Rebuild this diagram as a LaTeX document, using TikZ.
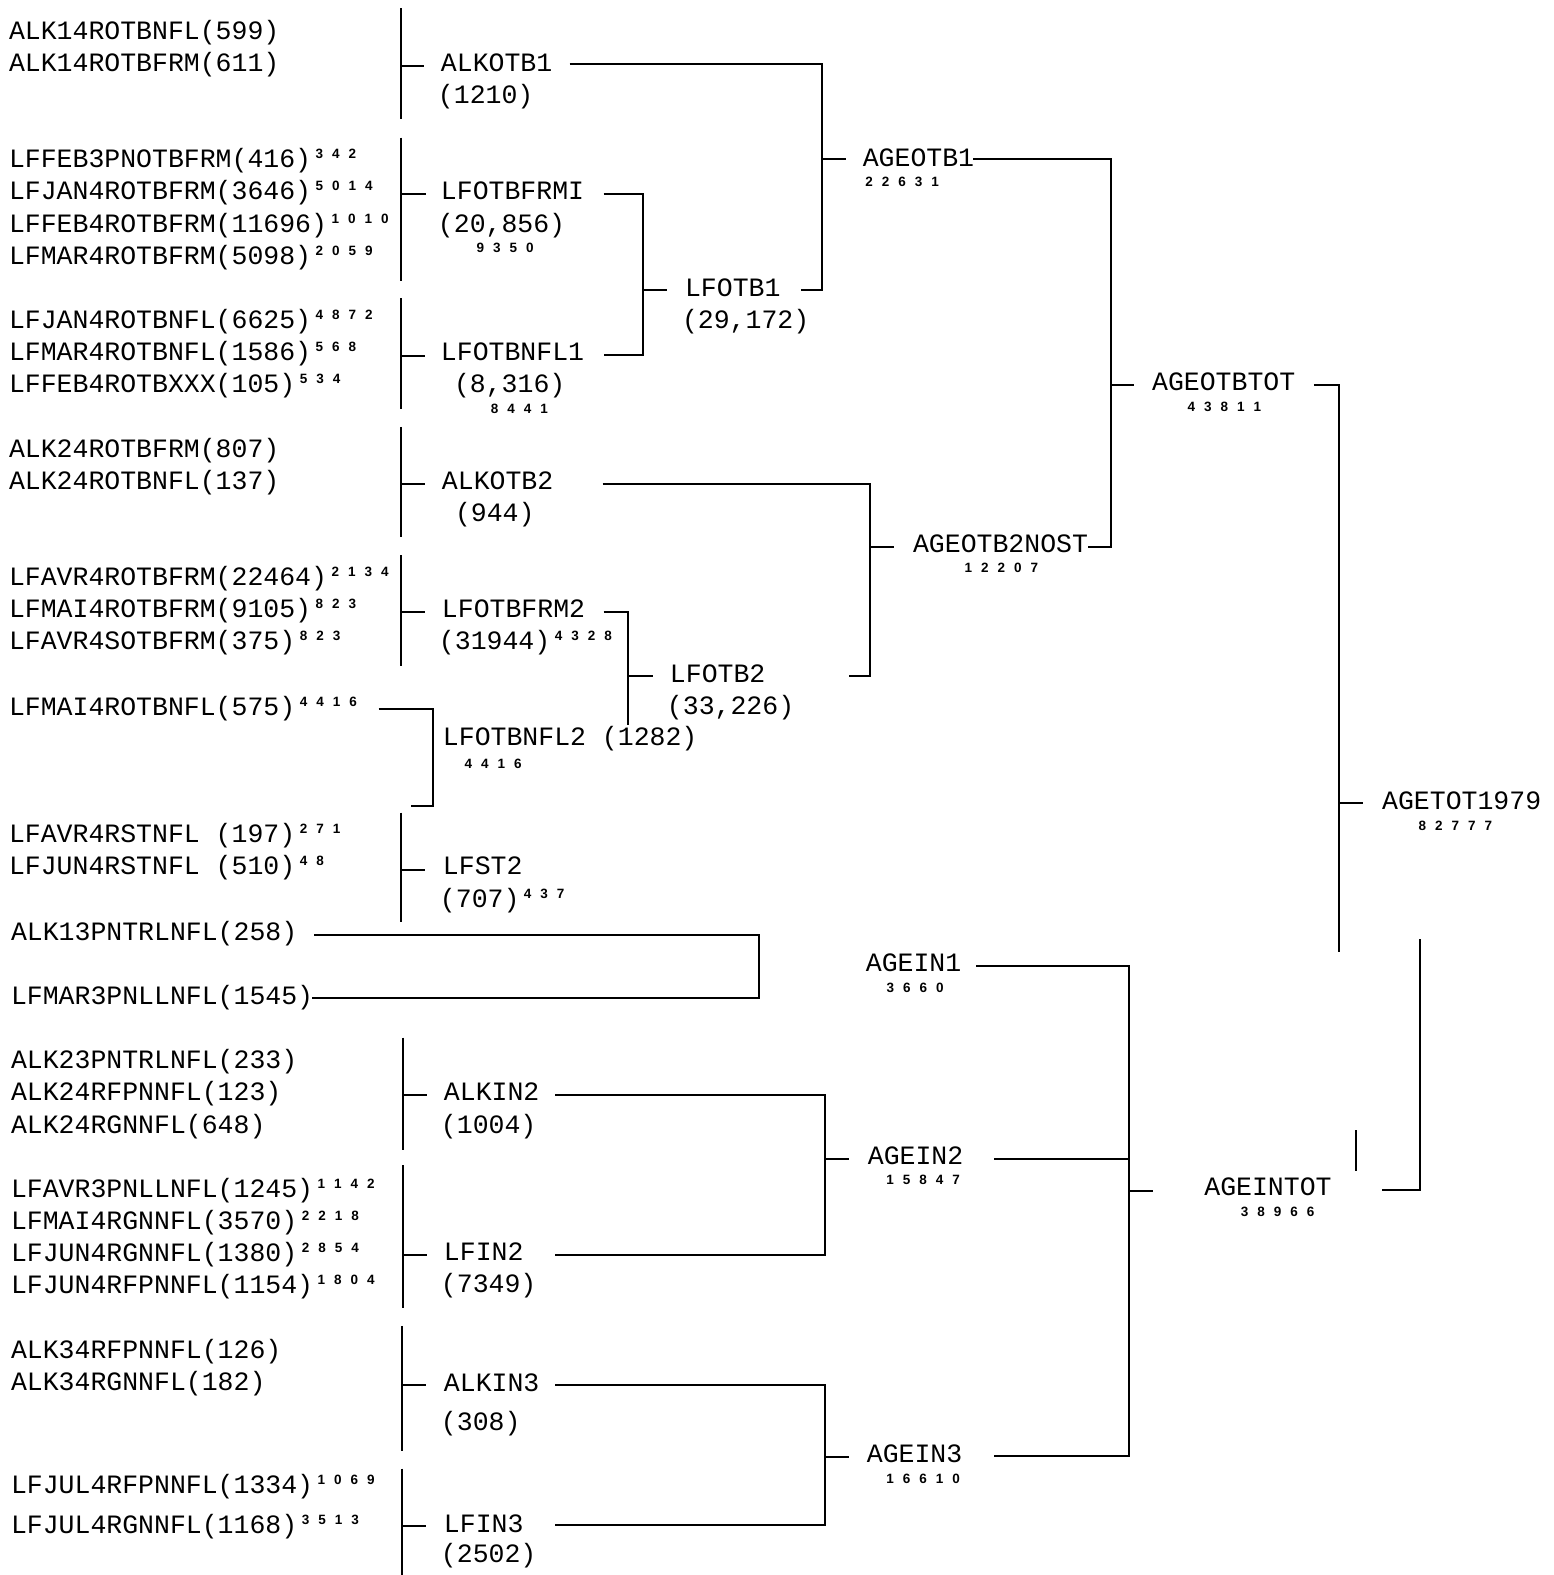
\documentclass[tikz,border=0pt]{standalone}
\usepackage{fontspec}
\setmainfont{Liberation Mono}
\newfontfamily\numfnt{Liberation Sans}
\newcommand\mainsz{\fontsize{26.5}{30}\selectfont}
\newcommand\spdg[1]{\spdgA#1\relax}
\def\spdgA#1{\ifx#1\relax\else\hbox to 16.5pt{\hss#1\hss}\expandafter\spdgA\fi}
\newcommand\smallnum[1]{{\numfnt\bfseries\fontsize{13.5}{13.5}\selectfont\spdg{#1}}}
\newcommand\supnum[1]{\raisebox{9pt}{\smallnum{#1}}}
\tikzset{
  lbl/.style={anchor=base west,inner sep=0pt,outer sep=0pt,font=\mainsz},
  sml/.style={anchor=center,inner sep=0pt,outer sep=0pt},
  ln/.style={line width=2pt,line join=miter}
}
\begin{document}
\begin{tikzpicture}[x=1.0045pt,y=-1.0045pt]
\fill[white] (0,0) rectangle (1547,1568);
\useasboundingbox (0,0) rectangle (1547,1568);

% ---------- leaf labels ----------
\node[lbl] (l1) at (9,39) {ALK14ROTBNFL(599)};
\node[lbl] (l2) at (9,71) {ALK14ROTBFRM(611)};
\node[lbl] (l3) at (9,167) {LFFEB3PNOTBFRM(416)\supnum{342}};
\node[lbl] (l4) at (9,199) {LFJAN4ROTBFRM(3646)\supnum{5014}};
\node[lbl] (l5) at (9,231) {LFFEB4ROTBFRM(11696)\supnum{1010}};
\node[lbl] (l6) at (9,263) {LFMAR4ROTBFRM(5098)\supnum{2059}};
\node[lbl] (l7) at (9,327) {LFJAN4ROTBNFL(6625)\supnum{4872}};
\node[lbl] (l8) at (9,359) {LFMAR4ROTBNFL(1586)\supnum{568}};
\node[lbl] (l9) at (9,391) {LFFEB4ROTBXXX(105)\supnum{534}};
\node[lbl] (l10) at (9,455) {ALK24ROTBFRM(807)};
\node[lbl] (l11) at (9,487) {ALK24ROTBNFL(137)};
\node[lbl] (l12) at (9,583) {LFAVR4ROTBFRM(22464)\supnum{2134}};
\node[lbl] (l13) at (9,615) {LFMAI4ROTBFRM(9105)\supnum{823}};
\node[lbl] (l14) at (9,647) {LFAVR4SOTBFRM(375)\supnum{823}};
\node[lbl] (l15) at (9,712) {LFMAI4ROTBNFL(575)\supnum{4416}};
\node[lbl] (l16) at (9,839) {LFAVR4RSTNFL (197)\supnum{271}};
\node[lbl] (l17) at (9,871) {LFJUN4RSTNFL (510)\supnum{48}};
\node[lbl] (l18) at (11,936) {ALK13PNTRLNFL(258)};
\node[lbl] (l19) at (11,1000) {LFMAR3PNLLNFL(1545)};
\node[lbl] (l20) at (11,1064) {ALK23PNTRLNFL(233)};
\node[lbl] (l21) at (11,1096) {ALK24RFPNNFL(123)};
\node[lbl] (l22) at (11,1128) {ALK24RGNNFL(648)};
\node[lbl] (l23) at (11,1192) {LFAVR3PNLLNFL(1245)\supnum{1142}};
\node[lbl] (l24) at (11,1224) {LFMAI4RGNNFL(3570)\supnum{2218}};
\node[lbl] (l25) at (11,1256) {LFJUN4RGNNFL(1380)\supnum{2854}};
\node[lbl] (l26) at (11,1288) {LFJUN4RFPNNFL(1154)\supnum{1804}};
\node[lbl] (l27) at (11,1352) {ALK34RFPNNFL(126)};
\node[lbl] (l28) at (11,1384) {ALK34RGNNFL(182)};
\node[lbl] (l29) at (11,1487) {LFJUL4RFPNNFL(1334)\supnum{1069}};
\node[lbl] (l30) at (11,1527) {LFJUL4RGNNFL(1168)\supnum{3513}};

% ---------- first-level groups ----------
\node[lbl] (alkotb1) at (439,71) {ALKOTB1};
\node[lbl] (alkotb1n) at (436,103) {(1210)};
\node[lbl] (lfotbfrm1) at (439,199) {LFOTBFRMI};
\node[lbl] (lfotbfrm1n) at (436,231) {(20,856)};
\node[sml] (lfotbfrm1s) at (503,247) {\smallnum{9350}};
\node[lbl] (lfotbnfl1) at (439,359) {LFOTBNFL1};
\node[lbl] (lfotbnfl1n) at (452,391) {(8,316)};
\node[sml] (lfotbnfl1s) at (517,407) {\smallnum{8441}};
\node[lbl] (alkotb2) at (440,487) {ALKOTB2};
\node[lbl] (alkotb2n) at (453,519) {(944)};
\node[lbl] (lfotbfrm2) at (440,615) {LFOTBFRM2};
\node[lbl] (lfotbfrm2n) at (437,647) {(31944)\supnum{4328}};
\node[lbl] (lfotbnfl2) at (441,742) {LFOTBNFL2 (1282)};
\node[sml] (lfotbnfl2s) at (491,760) {\smallnum{4416}};
\node[lbl] (lfst2) at (441,871) {LFST2};
\node[lbl] (lfst2n) at (438,903) {(707)\supnum{437}};
\node[lbl] (alkin2) at (442,1096) {ALKIN2};
\node[lbl] (alkin2n) at (439,1128) {(1004)};
\node[lbl] (lfin2) at (442,1255) {LFIN2};
\node[lbl] (lfin2n) at (439,1287) {(7349)};
\node[lbl] (alkin3) at (442,1385) {ALKIN3};
\node[lbl] (alkin3n) at (439,1424) {(308)};
\node[lbl] (lfin3) at (442,1526) {LFIN3};
\node[lbl] (lfin3n) at (439,1556) {(2502)};

% ---------- higher levels ----------
\node[lbl] (lfotb1) at (682,295) {LFOTB1};
\node[lbl] (lfotb1n) at (679,327) {(29,172)};
\node[lbl] (lfotb2) at (667,679) {LFOTB2};
\node[lbl] (lfotb2n) at (664,711) {(33,226)};
\node[lbl] (ageotb1) at (859,166) {AGEOTB1};
\node[sml] (ageotb1s) at (898,181) {\smallnum{22631}};
\node[lbl] (ageotb2) at (909,550) {AGEOTB2NOST};
\node[sml] (ageotb2s) at (997,565) {\smallnum{12207}};
\node[lbl] (ageotbtot) at (1147,389) {AGEOTBTOT};
\node[sml] (ageotbtots) at (1219,405) {\smallnum{43811}};
\node[lbl] (agetot) at (1376,806) {AGETOT1979};
\node[sml] (agetots) at (1449,822) {\smallnum{82777}};
\node[lbl] (agein1) at (862,967) {AGEIN1};
\node[sml] (agein1s) at (911,983) {\smallnum{3660}};
\node[lbl] (agein2) at (864,1159) {AGEIN2};
\node[sml] (agein2s) at (919,1175) {\smallnum{15847}};
\node[lbl] (ageintot) at (1199,1190) {AGEINTOT};
\node[sml] (ageintots) at (1272,1206) {\smallnum{38966}};
\node[lbl] (agein3) at (863,1456) {AGEIN3};
\node[sml] (agein3s) at (919,1472) {\smallnum{16610}};

% ---------- coordinates of the brackets ----------
\coordinate (b1t) at (399,8);     \coordinate (b1b) at (399,118);
\coordinate (b1m) at (399,66);    \coordinate (b1e) at (422,66);
\coordinate (b2t) at (399,137);   \coordinate (b2b) at (399,280);
\coordinate (b2m) at (399,193);   \coordinate (b2e) at (424,193);
\coordinate (b3t) at (399,297);   \coordinate (b3b) at (399,407);
\coordinate (b3m) at (399,354);   \coordinate (b3e) at (423,354);
\coordinate (b4t) at (399,425);   \coordinate (b4b) at (399,535);
\coordinate (b4m) at (399,482);   \coordinate (b4e) at (423,482);
\coordinate (b5t) at (399,553);   \coordinate (b5b) at (399,663);
\coordinate (b5m) at (399,609);   \coordinate (b5e) at (423,609);
\coordinate (b6t) at (399,809);   \coordinate (b6b) at (399,918);
\coordinate (b6m) at (399,866);   \coordinate (b6e) at (423,866);
\coordinate (b7t) at (401,1033);  \coordinate (b7b) at (401,1145);
\coordinate (b7m) at (401,1090);  \coordinate (b7e) at (425,1090);
\coordinate (b8t) at (401,1160);  \coordinate (b8b) at (401,1302);
\coordinate (b8m) at (401,1249);  \coordinate (b8e) at (425,1249);
\coordinate (b9t) at (400,1320);  \coordinate (b9b) at (400,1445);
\coordinate (b9m) at (400,1379);  \coordinate (b9e) at (424,1379);
\coordinate (b10t) at (400,1462); \coordinate (b10b) at (400,1568);
\coordinate (b10m) at (400,1519); \coordinate (b10e) at (424,1519);

% LFOTB1 bracket
\coordinate (c1a) at (601,193); \coordinate (c1b) at (640,193);
\coordinate (c1c) at (640,353); \coordinate (c1d) at (601,353);
\coordinate (c1m) at (640,289); \coordinate (c1e) at (664,289);
% AGEOTB1 bracket
\coordinate (c2a) at (567,64);  \coordinate (c2b) at (818,64);
\coordinate (c2c) at (818,289); \coordinate (c2d) at (797,289);
\coordinate (c2m) at (818,158); \coordinate (c2e) at (842,158);
% LFOTB2 bracket
\coordinate (c3a) at (601,609); \coordinate (c3b) at (625,609);
\coordinate (c3c) at (625,722);
\coordinate (c3m) at (625,673); \coordinate (c3e) at (650,673);
% LFOTBNFL2 bracket
\coordinate (c4a) at (377,706); \coordinate (c4b) at (431,706);
\coordinate (c4c) at (431,802); \coordinate (c4d) at (409,802);
% AGEOTB2NOST bracket
\coordinate (c5a) at (600,482); \coordinate (c5b) at (866,482);
\coordinate (c5c) at (866,673); \coordinate (c5d) at (845,673);
\coordinate (c5m) at (866,545); \coordinate (c5e) at (890,545);
% AGEOTBTOT bracket
\coordinate (c6a) at (969,158);  \coordinate (c6b) at (1106,158);
\coordinate (c6c) at (1106,545); \coordinate (c6d) at (1083,545);
\coordinate (c6m) at (1106,383); \coordinate (c6e) at (1129,383);
% AGETOT1979 bracket
\coordinate (c7a) at (1308,383); \coordinate (c7b) at (1333,383);
\coordinate (c7c) at (1333,948);
\coordinate (c7m) at (1333,799); \coordinate (c7e) at (1357,799);
\coordinate (c8a) at (1414,935); \coordinate (c8b) at (1414,1185);
\coordinate (c8c) at (1376,1185);
\coordinate (c9a) at (1350,1125); \coordinate (c9b) at (1350,1166);
% ALK13 / LFMAR3 bracket
\coordinate (d1a) at (313,931); \coordinate (d1b) at (756,931);
\coordinate (d1c) at (756,994); \coordinate (d1d) at (311,994);
% AGEINTOT bracket
\coordinate (d2a) at (972,962);   \coordinate (d2b) at (1124,962);
\coordinate (d2c) at (1124,1450); \coordinate (d2d) at (990,1450);
\coordinate (d2f) at (990,1154);  \coordinate (d2g) at (1124,1154);
\coordinate (d2m) at (1124,1186); \coordinate (d2e) at (1148,1186);
% AGEIN2 bracket
\coordinate (d3a) at (553,1090);  \coordinate (d3b) at (821,1090);
\coordinate (d3c) at (821,1249);  \coordinate (d3d) at (553,1249);
\coordinate (d3m) at (821,1154);  \coordinate (d3e) at (845,1154);
% AGEIN3 bracket
\coordinate (d4a) at (553,1379);  \coordinate (d4b) at (821,1379);
\coordinate (d4c) at (821,1518);  \coordinate (d4d) at (553,1518);
\coordinate (d4m) at (821,1451);  \coordinate (d4e) at (845,1451);

% ---------- connectors ----------
\foreach \i in {1,...,10}{
  \draw[ln] (b\i t) -- (b\i b) (b\i m) -- (b\i e);
}
\draw[ln] (c1a) -- (c1b) -- (c1c) -- (c1d) (c1m) -- (c1e);
\draw[ln] (c2a) -- (c2b) -- (c2c) -- (c2d) (c2m) -- (c2e);
\draw[ln] (c3a) -- (c3b) -- (c3c) (c3m) -- (c3e);
\draw[ln] (c4a) -- (c4b) -- (c4c) -- (c4d);
\draw[ln] (c5a) -- (c5b) -- (c5c) -- (c5d) (c5m) -- (c5e);
\draw[ln] (c6a) -- (c6b) -- (c6c) -- (c6d) (c6m) -- (c6e);
\draw[ln] (c7a) -- (c7b) -- (c7c) (c7m) -- (c7e);
\draw[ln] (c8a) -- (c8b) -- (c8c);
\draw[ln] (c9a) -- (c9b);
\draw[ln] (d1a) -- (d1b) -- (d1c) -- (d1d);
\draw[ln] (d2a) -- (d2b) -- (d2c) -- (d2d) (d2f) -- (d2g) (d2m) -- (d2e);
\draw[ln] (d3a) -- (d3b) -- (d3c) -- (d3d) (d3m) -- (d3e);
\draw[ln] (d4a) -- (d4b) -- (d4c) -- (d4d) (d4m) -- (d4e);
\end{tikzpicture}
\end{document}
